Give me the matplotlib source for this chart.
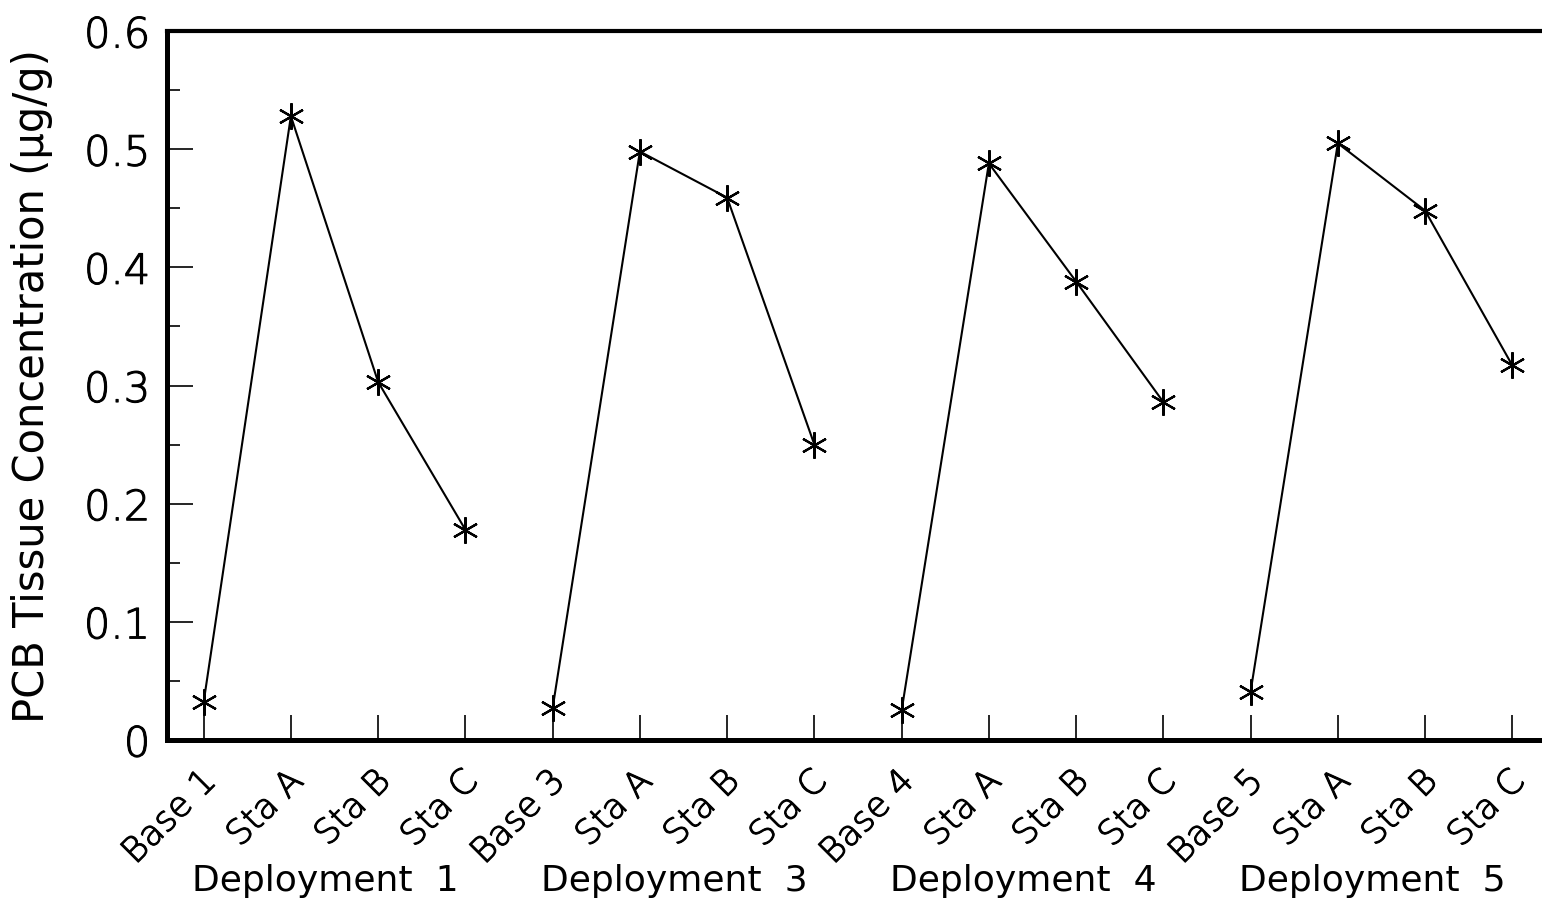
import matplotlib
matplotlib.use('Agg')
import matplotlib.pyplot as plt
import matplotlib.transforms as mtransforms
import matplotlib.patheffects as pe
from matplotlib.ticker import MultipleLocator

# values
deployments = ['Deployment  1', 'Deployment  3', 'Deployment  4', 'Deployment  5']
stations = [['Base 1', 'Sta A', 'Sta B', 'Sta C'],
            ['Base 3', 'Sta A', 'Sta B', 'Sta C'],
            ['Base 4', 'Sta A', 'Sta B', 'Sta C'],
            ['Base 5', 'Sta A', 'Sta B', 'Sta C']]
dep1 = [0.032, 0.528, 0.303, 0.178]
dep3 = [0.027, 0.498, 0.459, 0.250]
dep4 = [0.025, 0.488, 0.388, 0.286]
dep5 = [0.041, 0.505, 0.448, 0.317]
series = [dep1, dep3, dep4, dep5]
yticks = [0, 0.1, 0.2, 0.3, 0.4, 0.5, 0.6]
yticklabels = ['0', '0.1', '0.2', '0.3', '0.4', '0.5', '0.6']

plt.rcParams['font.family'] = ['DejaVu Sans']

fig = plt.figure(figsize=(15.42, 9.04), dpi=100)
ax = fig.add_axes([0.1083, 0.1803, 0.8917, 0.7843])

labels = []
for i, vals in enumerate(series):
    xs = list(range(i * 4, i * 4 + 4))
    ax.plot(xs, vals, color='black', linewidth=1.5,
            marker=(6, 2, 0), markersize=19, markeredgewidth=1.6)
    labels += stations[i]
    ax.text(i * 4 + 1.4, -0.198, deployments[i], fontsize=26,
            ha='center', va='center',
            transform=mtransforms.blended_transform_factory(ax.transData, ax.transAxes))

thin = [pe.withStroke(linewidth=0.8, foreground='black')]

ax.set_xlim(-0.42, 15.34)
ax.set_ylim(0, 0.6)
ax.set_xticks(range(len(labels)))
ax.set_xticklabels(labels, rotation=45, ha='right', va='center',
                   rotation_mode='anchor', fontsize=25, fontweight='light')

ax.set_yticks(yticks)
ax.set_yticklabels(yticklabels, fontweight='light')
ax.yaxis.set_minor_locator(MultipleLocator(0.05))
ax.tick_params(axis='y', which='major', direction='in', length=19, width=1.2,
               labelsize=30, pad=12)
ax.tick_params(axis='y', which='minor', direction='in', length=9.5, width=1.2)
ax.tick_params(axis='x', which='major', direction='in', length=18, width=1.2,
               pad=30)

# nudge the rotated labels so their ends sit just right of each tick
offset = mtransforms.ScaledTranslation(7 / 100, 6 / 100, fig.dpi_scale_trans)
for lab in ax.get_xticklabels():
    lab.set_transform(lab.get_transform() + offset)
    lab.set_path_effects(thin)
for lab in ax.get_yticklabels():
    lab.set_path_effects(thin)

ax.set_ylabel('PCB Tissue Concentration (μg/g)', fontsize=30, labelpad=22)

for side in ['left', 'bottom']:
    ax.spines[side].set_linewidth(3.6)
ax.spines['top'].set_linewidth(3.0)
ax.spines['right'].set_visible(False)

fig.savefig('out.png', dpi=100)
